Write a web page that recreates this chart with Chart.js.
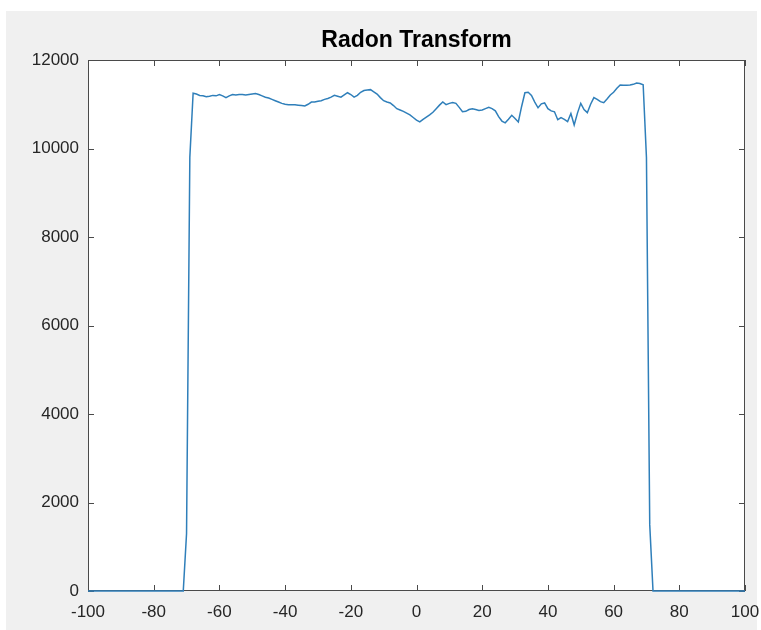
<!DOCTYPE html>
<html><head><meta charset="utf-8">
<script src="https://cdn.jsdelivr.net/npm/chart.js@4/dist/chart.umd.min.js"></script>
<style>html,body{margin:0;padding:0;background:#fff;overflow:hidden}#wrap{width:761px;height:630px}</style>
</head><body><div id="wrap"><canvas id="c" width="761" height="630"></canvas></div>
<script>
const titleText = 'Radon Transform';
const xTicks = [-100, -80, -60, -40, -20, 0, 20, 40, 60, 80, 100];
const yTicks = [0, 2000, 4000, 6000, 8000, 10000, 12000];
const xValues = [
  -100, -71, -70, -69,
  -68, -67, -66, -65, -64, -63, -62, -61, -60, -59,
  -58, -57, -56, -55, -54, -53, -52, -51, -50, -49,
  -48, -47, -46, -45, -44, -43, -42, -41, -40, -39,
  -38, -37, -36, -35, -34, -33, -32, -31, -30, -29,
  -28, -27, -26, -25, -24, -23, -22, -21, -20, -19,
  -18, -17, -16, -15, -14, -13, -12, -11, -10, -9,
  -8, -7, -6, -5, -4, -3, -2, -1, 0, 1,
  2, 3, 4, 5, 6, 7, 8, 9, 10, 11,
  12, 13, 14, 15, 16, 17, 18, 19, 20, 21,
  22, 23, 24, 25, 26, 27, 28, 29, 30, 31,
  32, 33, 34, 35, 36, 37, 38, 39, 40, 41,
  42, 43, 44, 45, 46, 47, 48, 49, 50, 51,
  52, 53, 54, 55, 56, 57, 58, 59, 60, 61,
  62, 63, 64, 65, 66, 67, 68, 69,
  70, 71, 72, 100
];
const yValues = [
  0, 0, 1300, 9800,
  11250, 11230, 11200, 11190, 11170, 11180, 11200, 11190, 11220, 11190,
  11150, 11190, 11220, 11210, 11220, 11220, 11210, 11220, 11230, 11240,
  11220, 11190, 11160, 11140, 11110, 11080, 11050, 11020, 11000, 10990,
  10990, 10990, 10980, 10970, 10960, 11000, 11050, 11050, 11070, 11080,
  11110, 11130, 11160, 11200, 11180, 11160, 11210, 11260, 11220, 11160,
  11200, 11270, 11310, 11320, 11330, 11280, 11230, 11150, 11080, 11050,
  11030, 10970, 10900, 10870, 10840, 10800, 10760, 10700, 10640, 10600,
  10660, 10710, 10760, 10820, 10900, 10980, 11050, 10990, 11020, 11040,
  11020, 10930, 10830, 10840, 10880, 10900, 10880, 10860, 10870, 10900,
  10930, 10900, 10850, 10720, 10620, 10580, 10660, 10750, 10680, 10600,
  10950, 11260, 11270, 11200, 11050, 10920, 11010, 11030, 10900, 10850,
  10830, 10650, 10700, 10660, 10610, 10790, 10530, 10800, 11020, 10880,
  10810, 11000, 11150, 11110, 11060, 11035, 11120, 11210, 11270, 11360,
  11435, 11430, 11430, 11435, 11450, 11480, 11470, 11440,
  9800, 1500, 0, 0
];

const FONT = "'Liberation Sans', Arial, Helvetica, sans-serif";
const AXIS_COLOR = '#262626';
const BOX_COLOR = '#4a4a4a';
const TICK_LEN = 6;

const framePlugin = {
  id: 'frame',
  beforeDraw(chart) {
    const ctx = chart.ctx, a = chart.chartArea;
    ctx.save();
    ctx.fillStyle = '#ffffff';
    ctx.fillRect(0, 0, chart.width, chart.height);
    ctx.fillStyle = '#f0f0f0';
    ctx.fillRect(6, 11, chart.width - 10, chart.height - 11);
    ctx.fillStyle = '#ffffff';
    ctx.fillRect(a.left, a.top, a.right - a.left, a.bottom - a.top);
    ctx.restore();
  },
  beforeDatasetsDraw(chart) {
    const ctx = chart.ctx, a = chart.chartArea;
    const xs = chart.scales.x, ys = chart.scales.y;
    ctx.save();
    ctx.strokeStyle = BOX_COLOR;
    ctx.lineWidth = 1;
    ctx.strokeRect(a.left + 0.5, a.top + 0.5, a.right - a.left - 1, a.bottom - a.top - 1);
    ctx.beginPath();
    xs.ticks.forEach(t => {
      const px = Math.round(xs.getPixelForValue(t.value)) + 0.5;
      ctx.moveTo(px, a.bottom); ctx.lineTo(px, a.bottom - TICK_LEN);
      ctx.moveTo(px, a.top); ctx.lineTo(px, a.top + TICK_LEN);
    });
    ys.ticks.forEach(t => {
      const py = Math.round(ys.getPixelForValue(t.value)) + 0.5;
      ctx.moveTo(a.left, py); ctx.lineTo(a.left + TICK_LEN, py);
      ctx.moveTo(a.right, py); ctx.lineTo(a.right - TICK_LEN, py);
    });
    ctx.stroke();
    ctx.restore();
  }
};

new Chart(document.getElementById('c'), {
  type: 'line',
  data: {
    datasets: [{
      data: xValues.map((x, i) => ({ x: x, y: yValues[i] })),
      borderColor: '#2f7fba',
      borderWidth: 1.5,
      pointRadius: 0,
      tension: 0,
      fill: false,
      clip: 4
    }]
  },
  options: {
    responsive: false,
    animation: false,
    devicePixelRatio: 1,
    layout: { padding: { left: 0, right: 16, top: 0, bottom: 0 } },
    plugins: {
      legend: { display: false },
      tooltip: { enabled: false },
      title: {
        display: true,
        text: titleText,
        fullSize: false,
        color: '#000000',
        font: { family: FONT, size: 23, weight: 'bold' },
        padding: { top: 26.5, bottom: 5.9 }
      }
    },
    scales: {
      x: {
        type: 'linear',
        min: -100, max: 100,
        grid: { display: false, drawTicks: false },
        border: { display: false },
        afterBuildTicks: s => { s.ticks = xTicks.map(v => ({ value: v })); },
        afterFit: s => { s.height = 39; s.paddingLeft = 0; s.paddingRight = 0; },
        ticks: { font: { family: FONT, size: 17 }, color: AXIS_COLOR, padding: 11, maxRotation: 0, autoSkip: false, callback: v => String(v) }
      },
      y: {
        type: 'linear',
        min: 0, max: 12000,
        grid: { display: false, drawTicks: false },
        border: { display: false },
        afterBuildTicks: s => { s.ticks = yTicks.map(v => ({ value: v })); },
        afterFit: s => { s.width = 88; s.paddingTop = 0; s.paddingBottom = 0; },
        ticks: { font: { family: FONT, size: 17 }, color: AXIS_COLOR, padding: 9, autoSkip: false, callback: v => String(v) }
      }
    }
  },
  plugins: [framePlugin]
});
</script>
</body></html>
